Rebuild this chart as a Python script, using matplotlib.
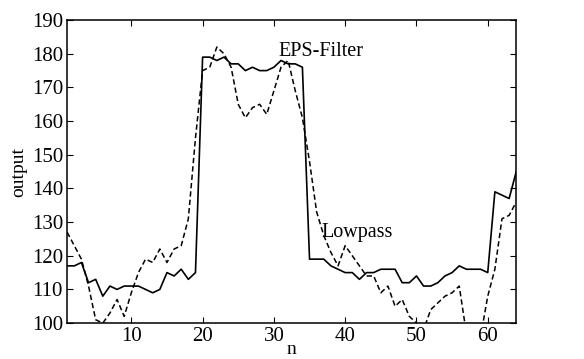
import matplotlib
matplotlib.use('Agg')
import matplotlib.pyplot as plt
import numpy as np

plt.rcParams['font.family'] = ['Liberation Serif', 'DejaVu Serif']

n = np.arange(1, 65)

eps_filter = [117, 117, 118, 112, 113, 108, 111, 110, 111, 111,
              111, 110, 109, 110, 115, 114, 116, 113, 115, 179,
              179, 178, 179, 177, 177, 175, 176, 175, 175, 176,
              178, 177, 177, 176, 119, 119, 119, 117, 116, 115,
              115, 113, 115, 115, 116, 116, 116, 112, 112, 114,
              111, 111, 112, 114, 115, 117, 116, 116, 116, 115,
              139, 138, 137, 145]

lowpass = [127, 123, 119, 111, 101, 100, 103, 107, 102, 109,
           115, 119, 118, 122, 118, 122, 123, 131, 155, 175,
           176, 182, 180, 176, 165, 161, 164, 165, 162, 169,
           176, 178, 169, 161, 148, 133, 126, 121, 117, 123,
           120, 117, 114, 114, 109, 111, 105, 107, 102, 100,
           98, 104, 106, 108, 109, 111, 97, 92, 96, 108,
           116, 131, 132, 136]

fig, ax = plt.subplots(figsize=(5.84, 3.59), dpi=100)
fig.subplots_adjust(left=0.115, right=0.884, top=0.944, bottom=0.1)

ax.plot(n, eps_filter, color='black', lw=1.2, ls='-')
ax.plot(n, lowpass, color='black', lw=1.1, ls=(0, (3.5, 2)))

ax.set_xlim(1, 64)
ax.set_ylim(100, 190)
ax.set_xticks([10, 20, 30, 40, 50, 60])
ax.set_yticks(np.arange(100, 191, 10))
ax.tick_params(direction='in', top=True, right=True, labelsize=15, length=4, pad=3)
for s in ax.spines.values():
    s.set_linewidth(1.1)

ax.text(30.6, 179.3, 'EPS-Filter', fontsize=14.5)
ax.text(36.7, 125.5, 'Lowpass', fontsize=14.5)

ax.set_xlabel('n', fontsize=14, va='bottom')
ax.xaxis.set_label_coords(0.5, -0.115)
ax.set_ylabel('output', fontsize=14, labelpad=3)

fig.savefig('out.png', dpi=100)
